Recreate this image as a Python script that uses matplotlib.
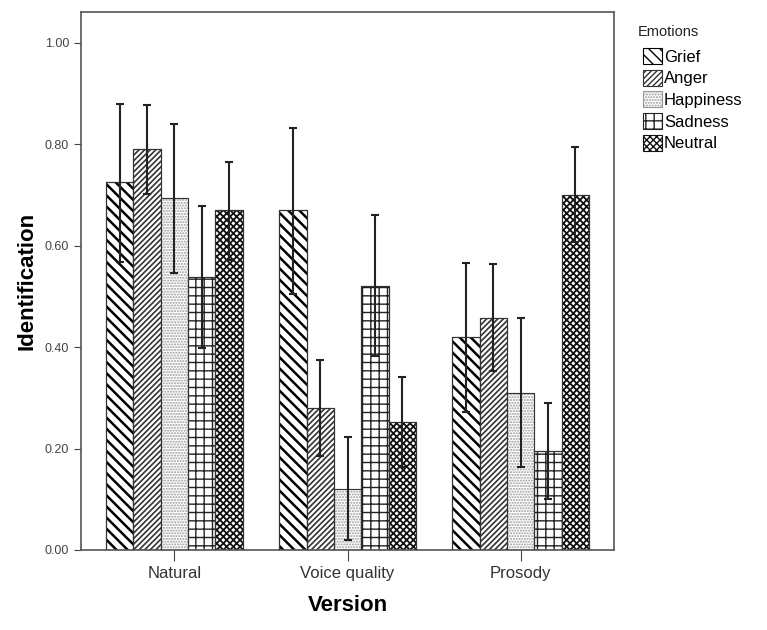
import matplotlib
matplotlib.use("Agg")
import matplotlib.pyplot as plt
import numpy as np
from matplotlib.ticker import FormatStrFormatter

plt.rcParams['font.family'] = ['Liberation Sans', 'DejaVu Sans']
plt.rcParams['hatch.linewidth'] = 1.0

versions = ["Natural", "Voice quality", "Prosody"]
emotions = ["Grief", "Anger", "Happiness", "Sadness", "Neutral"]
means = {
    "Grief":     [0.725, 0.670, 0.420],
    "Anger":     [0.790, 0.280, 0.458],
    "Happiness": [0.695, 0.120, 0.310],
    "Sadness":   [0.538, 0.520, 0.195],
    "Neutral":   [0.670, 0.252, 0.700],
}
err_hi = {
    "Grief":     [0.880, 0.832, 0.565],
    "Anger":     [0.877, 0.375, 0.563],
    "Happiness": [0.840, 0.223, 0.458],
    "Sadness":   [0.678, 0.660, 0.290],
    "Neutral":   [0.766, 0.341, 0.795],
}
err_lo = {
    "Grief":     [0.568, 0.505, 0.272],
    "Anger":     [0.703, 0.185, 0.352],
    "Happiness": [0.546, 0.020, 0.164],
    "Sadness":   [0.398, 0.382, 0.100],
    "Neutral":   [0.572, 0.163, 0.608],
}
hatches = {"Grief": "\\\\\\", "Anger": "//////", "Happiness": "......",
           "Sadness": "++", "Neutral": "xxxxx"}
hatch_colors = {"Grief": "black", "Anger": "#333333", "Happiness": "#999999",
                "Sadness": "#222222", "Neutral": "#111111"}
hatch_lw = {"Grief": 1.8, "Anger": 1.2, "Happiness": 1.0, "Sadness": 1.0, "Neutral": 1.3}

fig = plt.figure(figsize=(7.67, 6.30), dpi=100)
ax = fig.add_axes([0.1056, 0.127, 0.695, 0.854])

x = np.arange(len(versions))
w = 0.158
handles = []
for i, e in enumerate(emotions):
    pos = x + (i - 2) * w
    m = np.array(means[e])
    hi = np.array(err_hi[e]) - m
    lo = m - np.array(err_lo[e])
    bars = ax.bar(pos, m, width=w, facecolor="white", edgecolor=hatch_colors[e],
                  hatch=hatches[e], linewidth=0.8, label=e, zorder=2)
    for b in bars:
        try:
            b.set_hatch_linewidth(hatch_lw[e])
        except Exception:
            pass
    handles.append(bars)
    ax.bar(pos, m, width=w, facecolor="none", edgecolor="#333333", linewidth=0.8, zorder=3)
    ax.errorbar(pos, m, yerr=[lo, hi], fmt="none", ecolor="#222222",
                elinewidth=1.5, capsize=3, capthick=1.5, zorder=4)

ax.set_xlim(-0.54, 2.54)
ax.set_ylim(0, 1.061)
ax.set_yticks([0, 0.2, 0.4, 0.6, 0.8, 1.0])
ax.yaxis.set_major_formatter(FormatStrFormatter("%.2f"))
ax.set_xticks(x)
ax.set_xticklabels(versions, fontsize=12, color="#333333")
ax.tick_params(axis="y", labelsize=9, colors="#444444", length=5)
ax.tick_params(axis="x", length=8, colors="#444444", labelcolor="#333333")
for s in ax.spines.values():
    s.set_color("#555555")
    s.set_linewidth(1.2)
ax.set_ylabel("Identification", fontsize=16, fontweight="bold", labelpad=5)
ax.set_xlabel("Version", fontsize=16, fontweight="bold", labelpad=10)

fig.text(638 / 767, 1 - 32 / 630, "Emotions", fontsize=10.5, va="center", ha="left",
         color="#222222")
leg = fig.legend(handles=handles, labels=emotions, loc="upper left",
                 bbox_to_anchor=(643 / 767, 1 - 48 / 630),
                 frameon=False, fontsize=12,
                 handlelength=1.15, handleheight=1.1, handletextpad=0.1,
                 borderaxespad=0.0, borderpad=0.0, labelspacing=0.3)

fig.savefig("out.png", dpi=100)
